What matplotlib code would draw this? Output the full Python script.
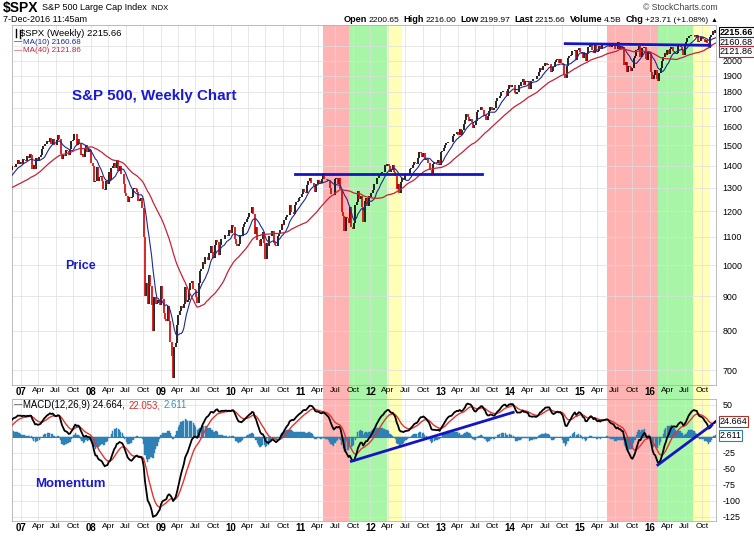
import numpy as np
import pandas as pd
import matplotlib
matplotlib.use("Agg")
import matplotlib.pyplot as plt
import matplotlib.dates as mdates
from matplotlib.patches import Rectangle
from matplotlib.transforms import blended_transform_factory
from matplotlib.ticker import FixedLocator, NullLocator, NullFormatter

plt.rcParams['font.family'] = ['Liberation Sans', 'DejaVu Sans']

W, H = 754, 538

# --- weekly closes of $SPX, one list per calendar year (Friday closes) ---
spx_2006 = [1285, 1287, 1261, 1284, 1264, 1267, 1288, 1289, 1288, 1282, 1307, 1302, 1295,
            1295, 1289, 1311, 1310, 1325, 1291, 1267, 1280, 1288, 1252, 1252, 1245, 1270,
            1265, 1236, 1240, 1278, 1279, 1266, 1302, 1295, 1311, 1299, 1322, 1314, 1336,
            1350, 1366, 1368, 1377, 1364, 1380, 1401, 1400, 1396, 1409, 1427, 1410, 1418]
spx_2007 = [1409, 1431, 1430, 1422, 1449, 1438, 1456, 1451, 1387, 1402, 1386, 1437, 1421,
            1443, 1452, 1484, 1495, 1505, 1505, 1522, 1515, 1536, 1507, 1533, 1503, 1503,
            1530, 1552, 1534, 1458, 1433, 1453, 1445, 1479, 1474, 1453, 1484, 1525, 1527,
            1557, 1561, 1500, 1535, 1509, 1453, 1458, 1440, 1481, 1504, 1467, 1484, 1478]
spx_2008 = [1411, 1401, 1325, 1330, 1395, 1331, 1349, 1353, 1331, 1294, 1289, 1330, 1316,
            1370, 1333, 1390, 1398, 1414, 1389, 1426, 1376, 1400, 1361, 1360, 1318, 1278,
            1263, 1240, 1260, 1257, 1260, 1296, 1298, 1293, 1283, 1242, 1252, 1255, 1213,
            1099, 899, 940, 877, 968, 930, 873, 800, 896, 876, 880, 887, 873]
spx_2009 = [932, 890, 850, 832, 826, 869, 826, 770, 735, 683, 757, 769, 816,
            843, 857, 870, 866, 877, 929, 883, 887, 919, 940, 946, 921, 918,
            896, 879, 940, 979, 987, 1010, 1005, 1026, 1029, 1016, 1042, 1068, 1044,
            1025, 1071, 1087, 1080, 1036, 1069, 1093, 1091, 1091, 1106, 1106, 1102, 1126]
spx_2010 = [1115, 1144, 1136, 1092, 1074, 1066, 1075, 1109, 1104, 1138, 1150, 1159, 1167,
            1178, 1194, 1192, 1217, 1187, 1111, 1136, 1088, 1089, 1065, 1092, 1117, 1076,
            1022, 1078, 1065, 1103, 1102, 1122, 1079, 1071, 1065, 1105, 1110, 1126, 1149,
            1147, 1166, 1176, 1183, 1183, 1225, 1199, 1199, 1190, 1225, 1240, 1243, 1256, 1258]
spx_2011 = [1271, 1293, 1283, 1276, 1311, 1330, 1343, 1320, 1321, 1304, 1279, 1314,
            1332, 1328, 1320, 1337, 1364, 1340, 1338, 1333, 1331, 1300, 1271, 1272, 1268,
            1340, 1344, 1316, 1345, 1292, 1199, 1179, 1124, 1177, 1174, 1154, 1216, 1136, 1131,
            1155, 1224, 1238, 1285, 1253, 1263, 1216, 1159, 1244, 1255, 1220, 1265, 1258]
spx_2012 = [1278, 1289, 1315, 1316, 1345, 1342, 1361, 1366, 1370, 1371, 1404, 1397, 1408,
            1398, 1370, 1378, 1403, 1369, 1353, 1295, 1318, 1278, 1325, 1343, 1335, 1362,
            1355, 1357, 1362, 1386, 1391, 1406, 1418, 1411, 1407, 1438, 1466, 1460, 1441,
            1461, 1429, 1433, 1412, 1414, 1380, 1359, 1409, 1416, 1418, 1413, 1430, 1402]
spx_2013 = [1467, 1472, 1486, 1503, 1513, 1518, 1520, 1515, 1518, 1551, 1561, 1557, 1569,
            1553, 1588, 1555, 1582, 1614, 1634, 1667, 1650, 1631, 1643, 1626, 1593, 1606,
            1632, 1680, 1692, 1691, 1710, 1691, 1655, 1664, 1633, 1655, 1688, 1710, 1692,
            1690, 1703, 1745, 1759, 1762, 1771, 1798, 1804, 1806, 1805, 1775, 1819, 1841]
spx_2014 = [1831, 1842, 1838, 1790, 1783, 1797, 1838, 1836, 1859, 1878, 1841, 1866, 1857,
            1865, 1815, 1864, 1863, 1881, 1878, 1877, 1900, 1924, 1949, 1937, 1963, 1961,
            1985, 1967, 1978, 1978, 1925, 1931, 1955, 1988, 2003, 2008, 1985, 2011, 1983,
            1968, 1906, 1887, 1965, 2018, 2032, 2040, 2064, 2068, 2076, 2003, 2071, 2089]
spx_2015 = [2059, 2045, 2019, 2052, 1995, 2055, 2097, 2110, 2105, 2071, 2053, 2108, 2061,
            2067, 2102, 2081, 2117, 2108, 2116, 2123, 2126, 2107, 2092, 2094, 2110, 2102,
            2077, 2077, 2127, 2079, 2104, 2078, 2092, 1971, 1989, 1921, 1961, 1958, 1931,
            1951, 2015, 2033, 2075, 2079, 2099, 2023, 2089, 2090, 2092, 2012, 2006, 2061]
spx_2016 = [2044, 1922, 1880, 1907, 1940, 1880, 1865, 1918, 1948, 1999, 2022, 2050, 2036,
            2073, 2048, 2081, 2092, 2065, 2057, 2047, 2053, 2099, 2099, 2096, 2071, 2037,
            2103, 2130, 2162, 2175, 2173, 2183, 2184, 2184, 2169, 2180, 2128, 2139, 2165, 2168,
            2153, 2133, 2141, 2126, 2085, 2164, 2182, 2213, 2192, 2215.66]
first_fridays = ['2006-01-06', '2007-01-05', '2008-01-04', '2009-01-02', '2010-01-01',
                 '2011-01-07', '2012-01-06', '2013-01-04', '2014-01-03', '2015-01-02',
                 '2016-01-01']
year_lists = [spx_2006, spx_2007, spx_2008, spx_2009, spx_2010, spx_2011, spx_2012,
              spx_2013, spx_2014, spx_2015, spx_2016]

# shaded phases (start, end, colour)
phases = [('2011-04-27', '2011-09-13', '#ffb3b3'),
          ('2011-09-13', '2012-03-30', '#a8f5a8'),
          ('2012-03-30', '2012-06-14', '#ffffb8'),
          ('2015-05-20', '2016-02-14', '#ffb3b3'),
          ('2016-02-14', '2016-08-15', '#a8f5a8'),
          ('2016-08-15', '2016-11-10', '#ffffb8')]
# drawn-in trend lines (date, value)
price_lines = [[('2010-12-03', 1360), ('2013-08-05', 1360)],
               [('2014-10-16', 2118), ('2016-11-10', 2106)]]
macd_lines = [[('2011-09-24', -38.3), ('2014-01-17', 38.5)],
              [('2016-02-12', -44.0), ('2016-11-20', 18.7)]]

price_ticks = [700, 800, 900, 1000, 1100, 1200, 1300, 1400, 1500, 1600, 1700, 1800,
               1900, 2000, 2100]
price_labels = ['700', '800', '900', '1000', '1100', '1200', '1300', '1400', '1500',
                '1600', '1700', '1800', '1900', '2000', '']
macd_ticks = [50, 25, 0, -25, -50, -75, -100, -125]
macd_labels = ['50', '', '', '-25', '-50', '-75', '-100', '-125']

# --- series + indicators ---
close = pd.concat([pd.Series(v, index=pd.date_range(d, periods=len(v), freq='W-FRI'))
                   for d, v in zip(first_fridays, year_lists)]).astype(float)
ma10 = close.rolling(10).mean()
ma40 = close.rolling(40).mean()
macd = close.ewm(span=12, adjust=False).mean() - close.ewm(span=26, adjust=False).mean()
signal = macd.ewm(span=9, adjust=False).mean()
hist = macd - signal
prev = close.shift(1)

xd = mdates.date2num(close.index.to_pydatetime())
x0, x1 = mdates.date2num(pd.Timestamp('2006-11-15')), mdates.date2num(pd.Timestamp('2016-12-12'))

fig = plt.figure(figsize=(W / 100, H / 100), dpi=100)
fig.patch.set_facecolor('white')


def fx(px):
    return px / W


def fy(py):
    return 1 - py / H


ax1 = fig.add_axes([fx(12), fy(385), 704 / W, 360 / H])
ax2 = fig.add_axes([fx(12), fy(521), 704 / W, 122 / H])

# phase shading runs through both panels and the date row between them
trans = blended_transform_factory(ax1.transData, fig.transFigure)
for a, b, c in phases:
    xa = mdates.date2num(pd.Timestamp(a))
    xb = mdates.date2num(pd.Timestamp(b))
    fig.add_artist(Rectangle((xa, fy(521)), xb - xa, (521 - 25) / H, transform=trans,
                             facecolor=c, edgecolor='none', zorder=-5))

# --- price panel ---
m = prev.notna().values
up = (close >= prev).values
lo = np.minimum(prev.values, close.values)
hi = np.maximum(prev.values, close.values)
ax1.vlines(xd[m & up], lo[m & up], hi[m & up], color='black', lw=1.2, zorder=3)
ax1.vlines(xd[m & ~up], lo[m & ~up], hi[m & ~up], color='#d40000', lw=1.2, zorder=3)
ax1.plot(xd, ma10.values, color='#1f2a8c', lw=0.8, zorder=4)
ax1.plot(xd, ma40.values, color='#c0243c', lw=0.9, zorder=4)
for seg in price_lines:
    ax1.plot([mdates.date2num(pd.Timestamp(d)) for d, _ in seg], [v for _, v in seg],
             color='#1414c4', lw=2.0, zorder=5)

ax1.set_yscale('log')
ax1.set_ylim(666, 2256)
ax1.yaxis.set_major_locator(FixedLocator(price_ticks))
ax1.set_yticklabels(price_labels)
ax1.yaxis.set_minor_locator(NullLocator())
ax1.yaxis.set_minor_formatter(NullFormatter())

# --- MACD panel ---
ax2.bar(xd, hist.values, width=6.5, color='#2f80b4', edgecolor='#2f80b4', lw=0.3, zorder=2)
ax2.axhline(0, color='#2f80b4', lw=0.8, zorder=2)
ax2.plot(xd, signal.values, color='#e03434', lw=1.0, zorder=3)
ax2.plot(xd, macd.values, color='black', lw=1.3, zorder=4)
for seg in macd_lines:
    ax2.plot([mdates.date2num(pd.Timestamp(d)) for d, _ in seg], [v for _, v in seg],
             color='#1414c4', lw=2.0, zorder=5)
ax2.set_ylim(-132, 59.4)
ax2.yaxis.set_major_locator(FixedLocator(macd_ticks))
ax2.set_yticklabels(macd_labels)

qticks = pd.date_range('2007-01-01', '2016-10-01', freq='QS')
qlabels = [f"{d.year % 100:02d}" if d.month == 1 else d.strftime('%b') for d in qticks]
for ax in (ax1, ax2):
    ax.set_facecolor('none')
    ax.set_xlim(x0, x1)
    ax.xaxis.set_major_locator(FixedLocator(mdates.date2num(qticks.to_pydatetime())))
    ax.set_xticklabels(qlabels)
    for lab, d in zip(ax.get_xticklabels(), qticks):
        if d.month == 1:
            lab.set_fontweight('bold')
            lab.set_fontsize(7)
        else:
            lab.set_fontsize(6)
    ax.yaxis.tick_right()
    ax.tick_params(axis='x', length=0, pad=1.5)
    ax.tick_params(axis='y', length=0, pad=4.5, labelsize=6.4)
    ax.grid(True, color='#dedede', lw=0.5)
    ax.set_axisbelow(True)
    for sp in ax.spines.values():
        sp.set_color('#b0b0b0')
        sp.set_linewidth(0.6)

# --- value boxes on the right axis ---
tb1 = blended_transform_factory(ax1.transAxes, ax1.transData)
tb2 = blended_transform_factory(ax2.transAxes, ax2.transData)
box_specs = [(close.iloc[-1], '2215.66', 'black', 'bold', -1.5),
             (ma10.iloc[-1], '2160.68', '#1f2a8c', 'normal', -3.6),
             (ma40.iloc[-1], '2121.86', '#c0243c', 'normal', -5.8)]
for val, s, ec, wt, dy in box_specs:
    ax1.annotate(s, (1.0, val), xycoords=tb1, xytext=(2.5, dy), textcoords='offset points',
                 fontsize=6.6, fontweight=wt, va='center', ha='left', annotation_clip=False,
                 bbox=dict(boxstyle='square,pad=0.1', fc='white', ec=ec, lw=0.8), zorder=10)
for val, s, ec in [(24.664, '24.664', '#b03030'), (2.611, '2.611', '#2f80b4')]:
    ax2.annotate(s, (1.0, val), xycoords=tb2, xytext=(2.5, 0), textcoords='offset points',
                 fontsize=6.5, va='center', ha='left', annotation_clip=False,
                 bbox=dict(boxstyle='square,pad=0.1', fc='white', ec=ec, lw=0.8), zorder=10)

renderer = fig.canvas.get_renderer()


def put_row(x_px, y_px, pieces, right=False):
    texts, widths = [], []
    for s, kw, gap in pieces:
        t = fig.text(0, fy(y_px), s, va='center', ha='left', **kw)
        texts.append(t)
        widths.append(t.get_window_extent(renderer=renderer).width + gap)
    x = x_px - sum(widths) if right else x_px
    for t, w in zip(texts, widths):
        t.set_x(fx(x))
        x += w


# header
put_row(3, 8, [("$SPX", dict(fontsize=10, fontweight='bold'), 3),
               ("S&P 500 Large Cap Index", dict(fontsize=6.5), 4),
               ("INDX", dict(fontsize=5.5), 0)])
fig.text(fx(3), fy(20), "7-Dec-2016 11:45am", fontsize=6.5, va='center')
fig.text(fx(718), fy(8), "\u00a9 StockCharts.com", fontsize=6.2, color='#404040',
         va='center', ha='right')
B = dict(fontsize=6.6, fontweight='bold')
N = dict(fontsize=6.1)
put_row(717, 20, [("Open", B, 1.5), ("2200.65", N, 4), ("High", B, 1.5), ("2216.00", N, 4),
                  ("Low", B, 1.5), ("2199.97", N, 4), ("Last", B, 1.5), ("2215.66", N, 4),
                  ("Volume", B, 1.5), ("4.5B", N, 4), ("Chg", B, 1.5),
                  ("+23.71 (+1.08%)", N, 2), ("\u25b2", dict(fontsize=5), 0)], right=True)

# legends inside the panels
ax1.plot([0.006, 0.006], [0.968, 0.988], transform=ax1.transAxes, color='black', lw=1.0)
ax1.plot([0.011, 0.011], [0.965, 0.985], transform=ax1.transAxes, color='black', lw=1.0)
put_row(20, 33, [("$SPX (Weekly) 2215.66", dict(fontsize=6.8), 0)])
put_row(14, 42, [("\u2014", dict(fontsize=6, color='black'), 1),
                 ("MA(10) 2160.68", dict(fontsize=5.8, color='#1f2a8c'), 0)])
put_row(14, 51, [("\u2014", dict(fontsize=6, color='#c0243c'), 1),
                 ("MA(40) 2121.86", dict(fontsize=5.8, color='#c0243c'), 0)])
put_row(14, 405, [("\u2014", dict(fontsize=6, color='black'), 1),
                  ("MACD(12,26,9) 24.664,", dict(fontsize=6.9, color='black'), 3),
                  ("22.053,", dict(fontsize=6.9, color='#d03030'), 3),
                  ("2.611", dict(fontsize=6.9, color='#3a8cc0'), 0)])

# annotations
blue = '#1a1ad0'
fig.text(fx(72), fy(96), "S&P 500, Weekly Chart", fontsize=10.9, fontweight='bold',
         color=blue, va='center')
fig.text(fx(65), fy(266), "Price", fontsize=9, fontweight='bold', color=blue, va='center')
fig.text(fx(35), fy(484), "Momentum", fontsize=9.5, fontweight='bold', color=blue,
         va='center')

fig.savefig('out.png', dpi=100)
